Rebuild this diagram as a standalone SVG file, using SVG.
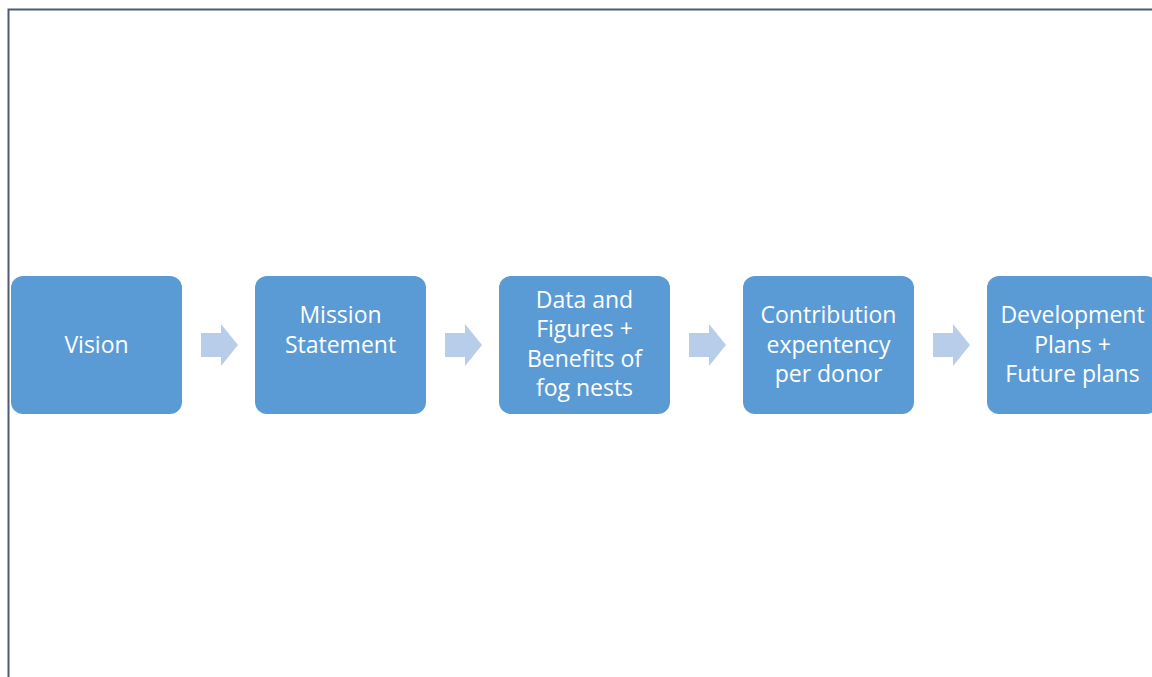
<svg xmlns="http://www.w3.org/2000/svg" width="1152" height="677" viewBox="0 0 1152 677">
<style>
.box{fill:#5b9bd5}
.t{font-family:"Open Sans","Liberation Sans",sans-serif;font-size:23px;fill:#fff;text-anchor:middle}
.arr{fill:#b8cde9}
</style>
<rect width="1152" height="677" fill="#fff"/>
<path d="M8.5 677 V9.5 H1152" fill="none" stroke="#4c5c72" stroke-width="2"/>
<g id="connectors">
<path class="arr" d="M201 333 H221 V324 L238 345 L221 366 V357 H201 Z"/>
<path class="arr" d="M445 333 H465 V324 L482 345 L465 366 V357 H445 Z"/>
<path class="arr" d="M689 333 H709 V324 L726 345 L709 366 V357 H689 Z"/>
<path class="arr" d="M933 333 H953 V324 L970 345 L953 366 V357 H933 Z"/>
</g>
<g id="vision">
<rect class="box" x="11" y="276" width="171" height="138" rx="12"/>
<text class="t" x="96.5" y="353">Vision</text>
</g>
<g id="mission">
<rect class="box" x="255" y="276" width="171" height="138" rx="12"/>
<text class="t" x="340.5" y="323">Mission</text>
<text class="t" x="340.5" y="353">Statement</text>
</g>
<g id="data">
<rect class="box" x="499" y="276" width="171" height="138" rx="12"/>
<text class="t" x="584.5" y="308">Data and</text>
<text class="t" x="584.5" y="337">Figures +</text>
<text class="t" x="584.5" y="367">Benefits of</text>
<text class="t" x="584.5" y="396">fog nests</text>
</g>
<g id="contribution">
<rect class="box" x="743" y="276" width="171" height="138" rx="12"/>
<text class="t" x="828.5" y="323">Contribution</text>
<text class="t" x="828.5" y="353">expentency</text>
<text class="t" x="828.5" y="382">per donor</text>
</g>
<g id="development">
<rect class="box" x="987" y="276" width="171" height="138" rx="12"/>
<text class="t" x="1072.5" y="323">Development</text>
<text class="t" x="1072.5" y="353">Plans +</text>
<text class="t" x="1072.5" y="382">Future plans</text>
</g>
</svg>
